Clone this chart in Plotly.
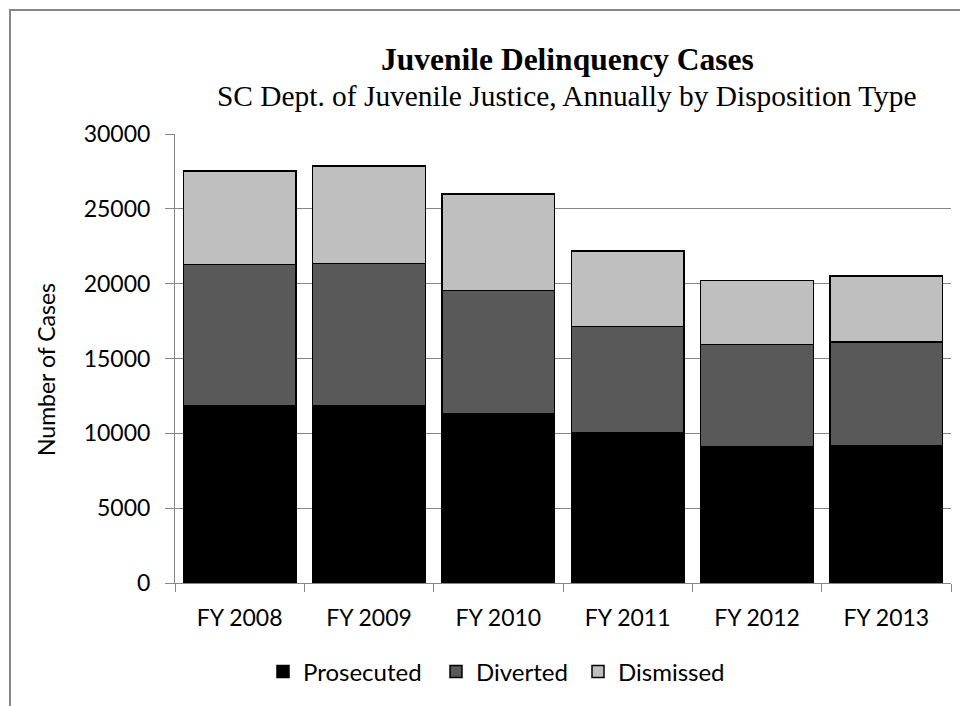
'''
    Juvenile delinquency cases, stacked by disposition type.
'''

import plotly.graph_objects as go

years = ['FY 2008', 'FY 2009', 'FY 2010', 'FY 2011', 'FY 2012', 'FY 2013']
prosecuted = [11820, 11820, 11310, 10010, 9100, 9170]
diverted = [9460, 9530, 8250, 7120, 6850, 6930]
dismissed = [6240, 6510, 6440, 5040, 4260, 4400]

series_names = ['Prosecuted', 'Diverted', 'Dismissed']
series_colors = ['#000000', '#595959', '#BFBFBF']

# the page body adds an 8px margin, so the figure is a bit smaller than the window
OFF = 8
PAGE_W, PAGE_H = 968 - OFF, 706 - OFF
# plot area wanted at x 175..951, y 134..583 of the window
M_L, M_T = 175 - OFF, 134 - OFF
M_R, M_B = PAGE_W - (951 - OFF), PAGE_H - (583 - OFF)
PLOT_W = PAGE_W - M_L - M_R
PLOT_H = PAGE_H - M_T - M_B

GREY = '#868686'
SANS = 'Lato'
SERIF = 'Liberation Serif'


def px_x(px):
    # window pixel column -> paper x
    return (px - OFF - M_L) / PLOT_W


def px_y(py):
    # window pixel row -> paper y
    return (PAGE_H - M_B - (py - OFF)) / PLOT_H


# left edge of each legend square in the window
legend_left = [277, 450, 592]
legend_ids = ['legend', 'legend2', 'legend3']

fig = go.Figure()

for name, vals, color, lg in zip(series_names, [prosecuted, diverted, dismissed],
                                 series_colors, legend_ids):
    fig.add_trace(go.Bar(
        name=name,
        x=years,
        y=vals,
        legend=lg,
        marker=dict(color=color, line=dict(color='#000000', width=1.5)),
    ))

legend_style = dict(
    orientation='h',
    xanchor='left',
    y=px_y(672), yanchor='middle',
    font=dict(family=SANS, size=24, color='#000000'),
    bgcolor='rgba(0,0,0,0)',
)

fig.update_layout(
    barmode='stack',
    bargap=0.128,
    width=PAGE_W,
    height=PAGE_H,
    margin=dict(l=M_L, r=M_R, t=M_T, b=M_B),
    paper_bgcolor='white',
    plot_bgcolor='white',
    font=dict(family=SANS, size=23, color='#000000'),
    showlegend=True,
    legend=dict(x=px_x(legend_left[0] - 14), **legend_style),
    legend2=dict(x=px_x(legend_left[1] - 14), **legend_style),
    legend3=dict(x=px_x(legend_left[2] - 14), **legend_style),
)

fig.update_yaxes(
    range=[0, 30000],
    dtick=5000,
    tickformat='d',
    showgrid=True,
    gridcolor=GREY,
    gridwidth=1,
    showline=True,
    linecolor=GREY,
    linewidth=1,
    ticks='outside',
    ticklen=9,
    tickcolor=GREY,
    ticklabelstandoff=10,
    zeroline=False,
    tickfont=dict(family=SANS, size=23, color='#000000'),
)

fig.update_xaxes(
    showline=True,
    linecolor=GREY,
    linewidth=1,
    ticks='outside',
    tickson='boundaries',
    ticklen=8,
    tickcolor=GREY,
    ticklabelstandoff=14,
    tickfont=dict(family=SANS, size=23, color='#000000'),
)

# titles
fig.add_annotation(
    text='<b>Juvenile Delinquency Cases</b>',
    x=px_x(567), y=px_y(59), xref='paper', yref='paper',
    xanchor='center', yanchor='middle', showarrow=False,
    font=dict(family=SERIF, size=31.5, color='#000000'),
)
fig.add_annotation(
    text='SC Dept. of Juvenile Justice, Annually by Disposition Type',
    x=px_x(566), y=px_y(96), xref='paper', yref='paper',
    xanchor='center', yanchor='middle', showarrow=False,
    font=dict(family=SERIF, size=29.4, color='#000000'),
)
fig.add_annotation(
    text='Number of Cases',
    x=px_x(46), y=px_y(370), xref='paper', yref='paper',
    xanchor='center', yanchor='middle', showarrow=False, textangle=-90,
    font=dict(family=SANS, size=23, color='#000000'),
)

# chart-area frame (cut off at the right and bottom of the page)
fig.add_shape(
    type='path', xref='paper', yref='paper',
    path='M {},{} L {},{} L {},{}'.format(
        px_x(10), px_y(720), px_x(10), px_y(10), px_x(990), px_y(10)),
    line=dict(color=GREY, width=2),
)

fig.write_html('out.html')
